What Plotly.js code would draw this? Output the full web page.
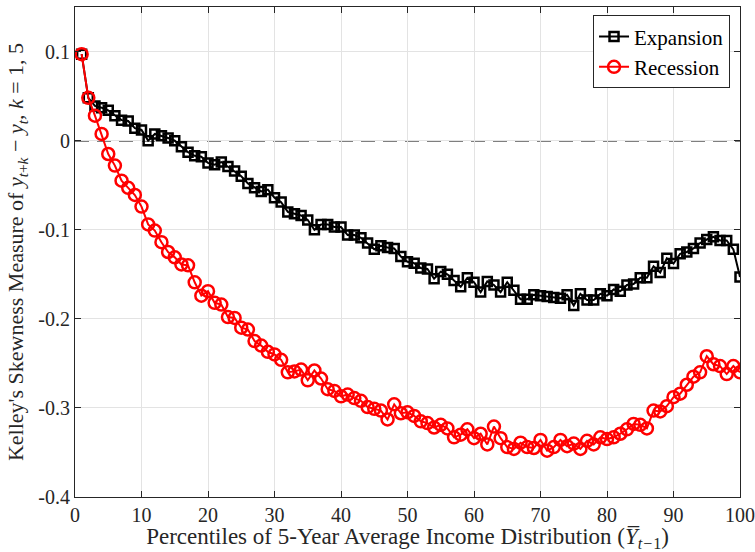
<!DOCTYPE html>
<html><head><meta charset="utf-8">
<script src="https://cdn.plot.ly/plotly-3.0.1.min.js"></script>
<style>html,body{margin:0;padding:0;background:#fff}#chart{width:755px;height:552px}</style>
</head><body><div id="chart"></div>
<script>
const percentiles = Array.from({length: 100}, (_, i) => i + 1);
const expansion = [
 0.097, 0.048, 0.039, 0.037, 0.034, 0.028, 0.023, 0.022, 0.014, 0.012,
 0.000, 0.0075, 0.0056, 0.003, 0.000, -0.007, -0.013, -0.017, -0.018, -0.025,
 -0.027, -0.024, -0.029, -0.034, -0.040, -0.048, -0.053, -0.057, -0.055, -0.064,
 -0.069, -0.080, -0.082, -0.084, -0.089, -0.100, -0.094, -0.094, -0.097, -0.097,
 -0.106, -0.106, -0.109, -0.115, -0.122, -0.118, -0.120, -0.121, -0.130, -0.136,
 -0.1375, -0.143, -0.144, -0.155, -0.147, -0.150, -0.157, -0.164, -0.154, -0.159,
 -0.170, -0.158, -0.162, -0.170, -0.159, -0.168, -0.178, -0.178, -0.173, -0.174,
 -0.175, -0.176, -0.177, -0.173, -0.185, -0.172, -0.179, -0.179, -0.172, -0.174,
 -0.167, -0.169, -0.162, -0.161, -0.154, -0.154, -0.141, -0.148, -0.132, -0.138,
 -0.127, -0.125, -0.121, -0.115, -0.111, -0.108, -0.112, -0.112, -0.122, -0.153
];
const recession = [
 0.097, 0.048, 0.028, 0.0075, -0.015, -0.028, -0.045, -0.053, -0.061, -0.074,
 -0.094, -0.101, -0.114, -0.125, -0.131, -0.139, -0.140, -0.159, -0.174, -0.169,
 -0.182, -0.184, -0.198, -0.199, -0.210, -0.212, -0.225, -0.230, -0.237, -0.240,
 -0.246, -0.260, -0.259, -0.257, -0.269, -0.258, -0.267, -0.279, -0.281, -0.287,
 -0.285, -0.289, -0.292, -0.299, -0.301, -0.303, -0.313, -0.296, -0.306, -0.305,
 -0.309, -0.315, -0.317, -0.322, -0.319, -0.323, -0.333, -0.330, -0.324, -0.334,
 -0.329, -0.341, -0.321, -0.334, -0.344, -0.346, -0.339, -0.344, -0.345, -0.336,
 -0.348, -0.344, -0.336, -0.343, -0.340, -0.346, -0.337, -0.341, -0.333, -0.335,
 -0.333, -0.329, -0.324, -0.318, -0.319, -0.323, -0.303, -0.304, -0.298, -0.288,
 -0.284, -0.274, -0.265, -0.260, -0.242, -0.251, -0.253, -0.262, -0.253, -0.260
];
const xTickVals = [0,10,20,30,40,50,60,70,80,90,100];
const xTickText = ['0','10','20','30','40','50','60','70','80','90','100'];
const yTickVals = [-0.4,-0.3,-0.2,-0.1,0,0.1];
const yTickText = ['-0.4','-0.3','-0.2','-0.1','0','0.1'];

const serif = '"Liberation Serif", "DejaVu Serif", serif';
const axisCommon = {
  showline: true, linecolor: '#262626', linewidth: 1, mirror: 'ticks',
  ticks: 'inside', ticklen: 6, tickcolor: '#262626',
  showgrid: true, gridcolor: '#e3e3e3', gridwidth: 1, zeroline: false,
  tickfont: {family: serif, size: 20, color: '#262626'}
};
const traces = [
  {x: percentiles, y: expansion, name: 'Expansion', type: 'scatter', mode: 'lines+markers',
   line: {color: '#000000', width: 2},
   marker: {symbol: 'square-open', size: 9, color: '#000000', line: {width: 2.5, color: '#000000'}}},
  {x: percentiles, y: recession, name: 'Recession', type: 'scatter', mode: 'lines+markers',
   line: {color: '#ff0000', width: 2},
   marker: {symbol: 'circle-open', size: 12, color: '#ff0000', line: {width: 2.5, color: '#ff0000'}}}
];
const layout = {
  width: 755, height: 552,
  margin: {l: 75, r: 15, t: 7, b: 55},
  paper_bgcolor: '#ffffff', plot_bgcolor: '#ffffff',
  font: {family: serif, color: '#262626'},
  xaxis: Object.assign({}, axisCommon, {
    range: [0, 100], tickvals: xTickVals, ticktext: xTickText,
    title: {text: 'Percentiles of 5-Year Average Income Distribution (<i>Y\u0305</i><sub><i>t\u2212</i>1</sub>)',
            font: {family: serif, size: 23, color: '#262626'}, standoff: 2}
  }),
  yaxis: Object.assign({}, axisCommon, {
    range: [-0.4, 0.15], tickvals: yTickVals, ticktext: yTickText,
    title: {text: "Kelley's Skewness Measure of <i>y</i><sub><i>t</i>+<i>k</i></sub> \u2212 <i>y</i><sub><i>t</i></sub>, <i>k</i> = 1, 5",
            font: {family: serif, size: 22, color: '#262626'}, standoff: 8}
  }),
  shapes: [{type: 'line', xref: 'paper', x0: 0, x1: 1, yref: 'y', y0: 0, y1: 0,
            line: {color: '#000000', width: 1.5, dash: '14px,8px'}, layer: 'below'}],
  legend: {x: 0.985, y: 0.983, xanchor: 'right', yanchor: 'top',
           bgcolor: '#ffffff', bordercolor: '#262626', borderwidth: 1,
           font: {family: serif, size: 21, color: '#000000'}, tracegroupgap: 0},
  showlegend: true
};
Plotly.newPlot('chart', traces, layout, {displayModeBar: false, staticPlot: true});
</script></body></html>
